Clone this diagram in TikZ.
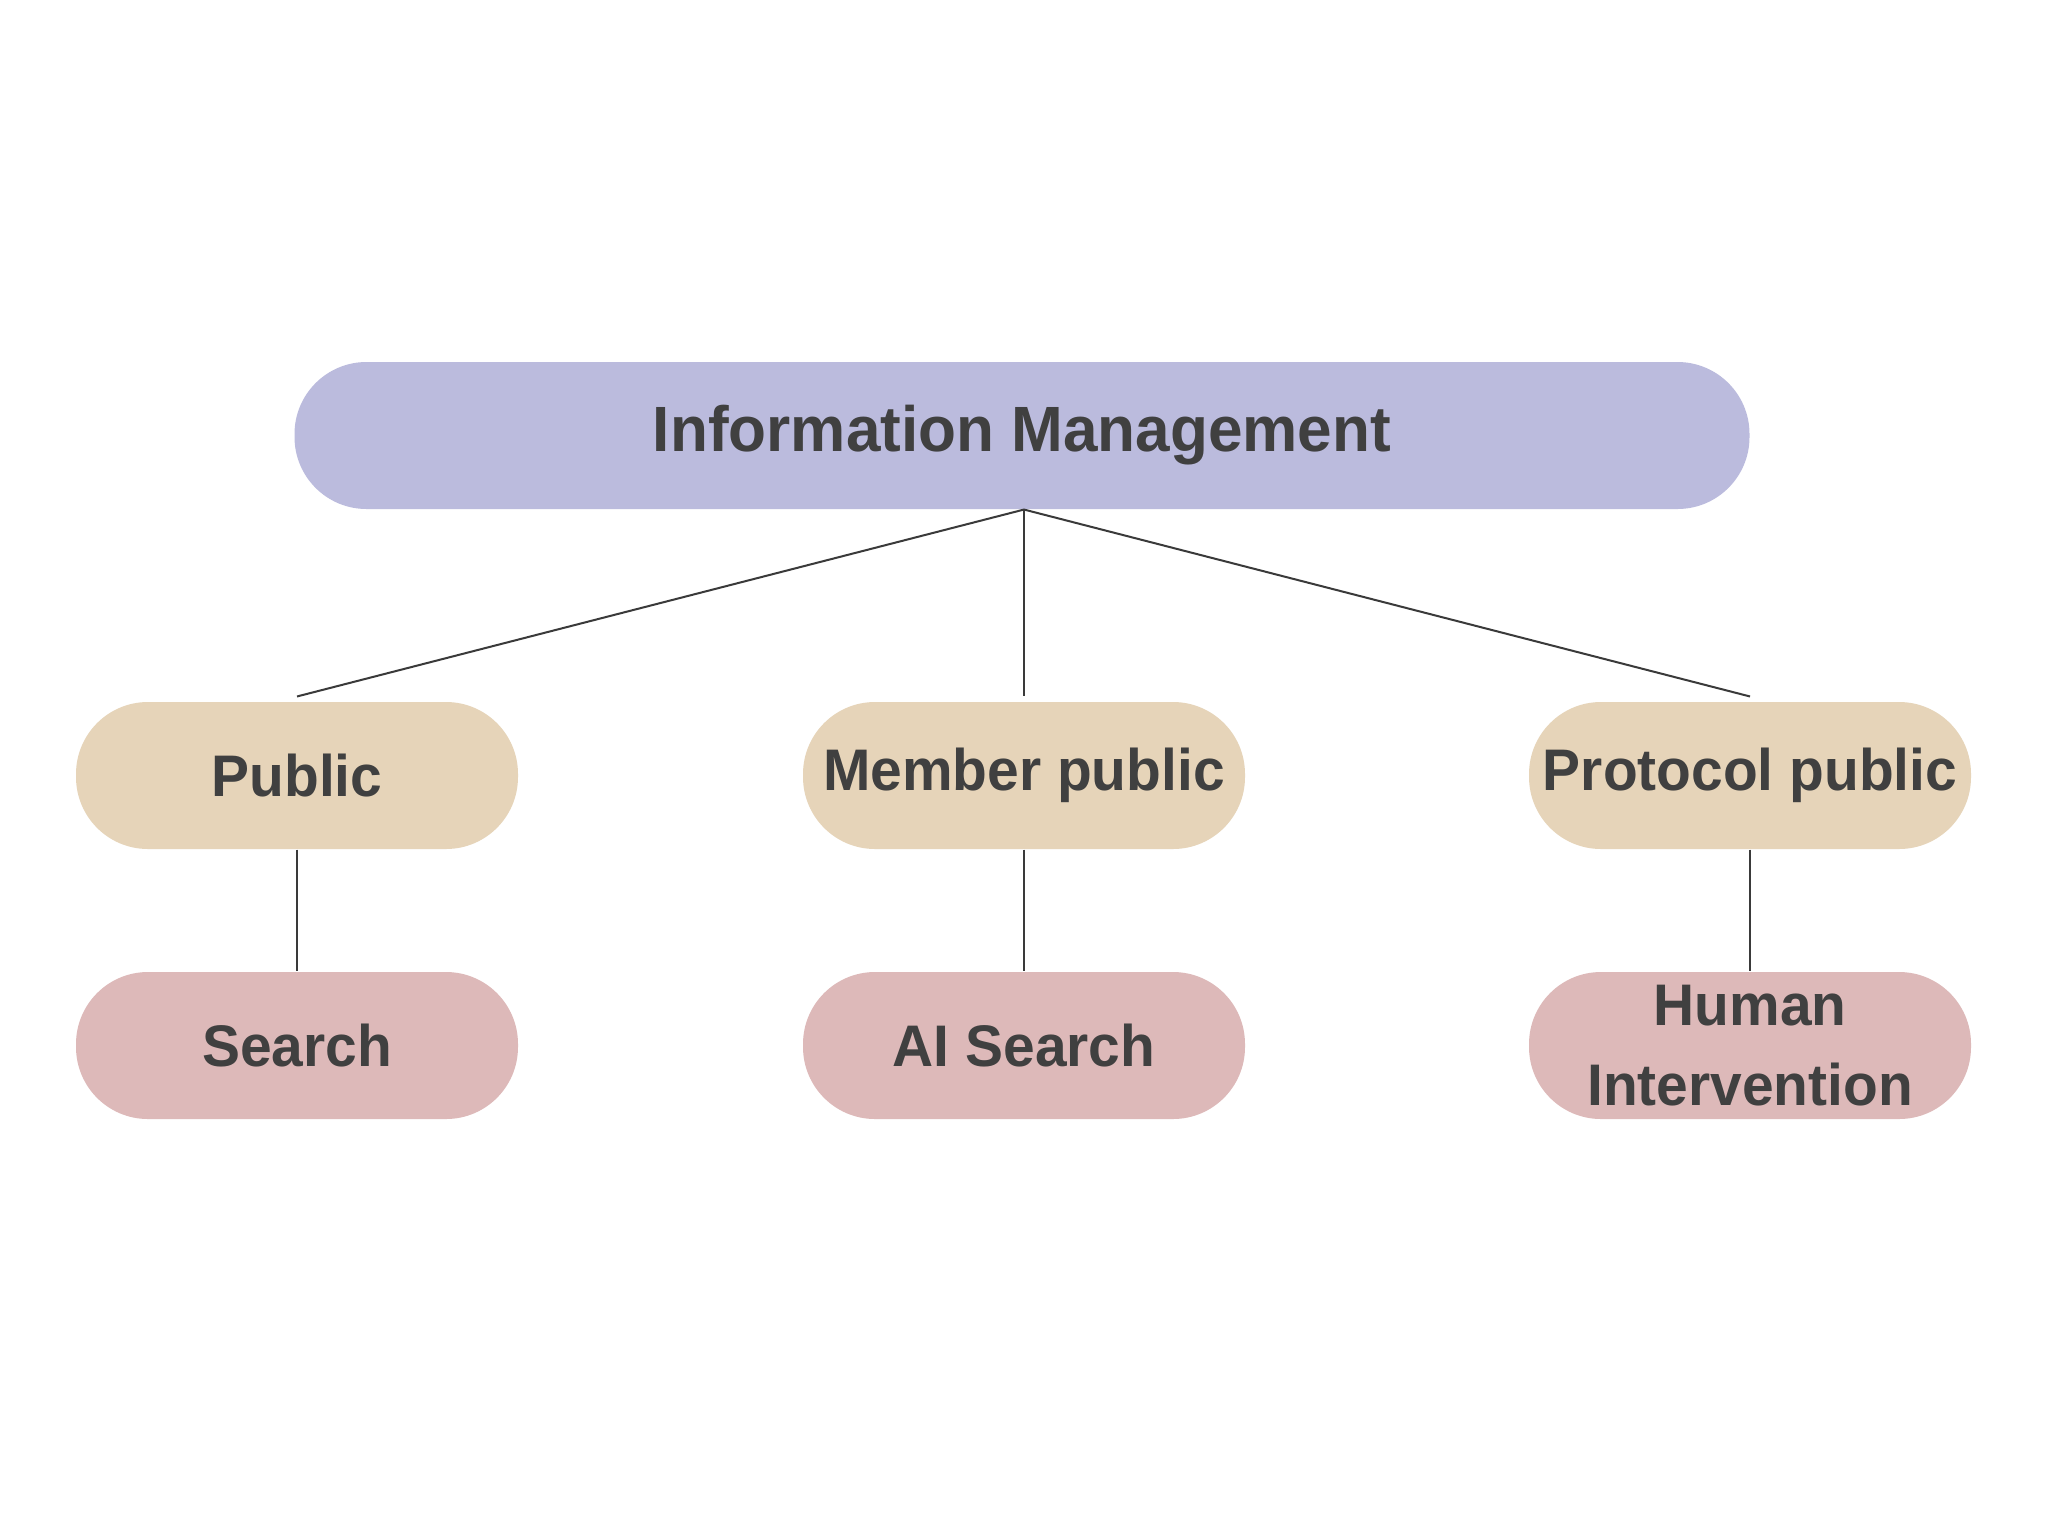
\documentclass[tikz,border=0pt]{standalone}
\usepackage{fontspec}
\setmainfont{Liberation Sans}[FakeStretch=0.97]
\definecolor{inktext}{HTML}{404040}
\definecolor{inkline}{HTML}{3A3A3A}
\definecolor{rootfill}{HTML}{BBBBDD}
\definecolor{midfill}{HTML}{E6D4B9}
\definecolor{leaffill}{HTML}{DDB9B9}
\tikzset{
  pill/.style={rectangle, rounded corners=27pt, draw=none,
    minimum height=147*0.375pt, inner sep=0pt, align=center,
    text=inktext, font=\bfseries\fontsize{22}{30}\selectfont},
  rootbox/.style={pill, fill=rootfill, minimum width=1455*0.375pt,
    font=\bfseries\fontsize{24}{30}\selectfont},
  midbox/.style={pill, fill=midfill, minimum width=442*0.375pt},
  leafbox/.style={pill, fill=leaffill, minimum width=442*0.375pt},
  link/.style={draw=inkline, line width=0.75pt}
}
\begin{document}
\begin{tikzpicture}[x=0.375pt, y=-0.375pt]
  \useasboundingbox (0,0) rectangle (2048,1536);
  \fill[white] (0,0) rectangle (2048,1536);

  \node[rootbox] (root) at (1022,435.5) {Information Management};

  \node[midbox] (pub) at (297,775.5) {Public};
  \node[midbox] (mem) at (1024,775.5) {Member public};
  \node[midbox] (pro) at (1750,775.5) {Protocol public};

  \node[leafbox] (srch) at (297,1045.5) {Search};
  \node[leafbox] (ai) at (1024,1045.5) {AI Search};
  \node[leafbox] (hum) at (1750,1045.5) {Human\\Intervention};

  \coordinate (rootfoot) at ([xshift=2*0.375pt]root.south);
  \draw[link] (rootfoot) -- ([yshift=5*0.375pt]pub.north);
  \draw[link] (rootfoot) -- ([yshift=5*0.375pt]mem.north);
  \draw[link] (rootfoot) -- ([yshift=5*0.375pt]pro.north);

  \draw[link] (pub.south) -- (srch.north);
  \draw[link] (mem.south) -- (ai.north);
  \draw[link] (pro.south) -- (hum.north);
\end{tikzpicture}
\end{document}
